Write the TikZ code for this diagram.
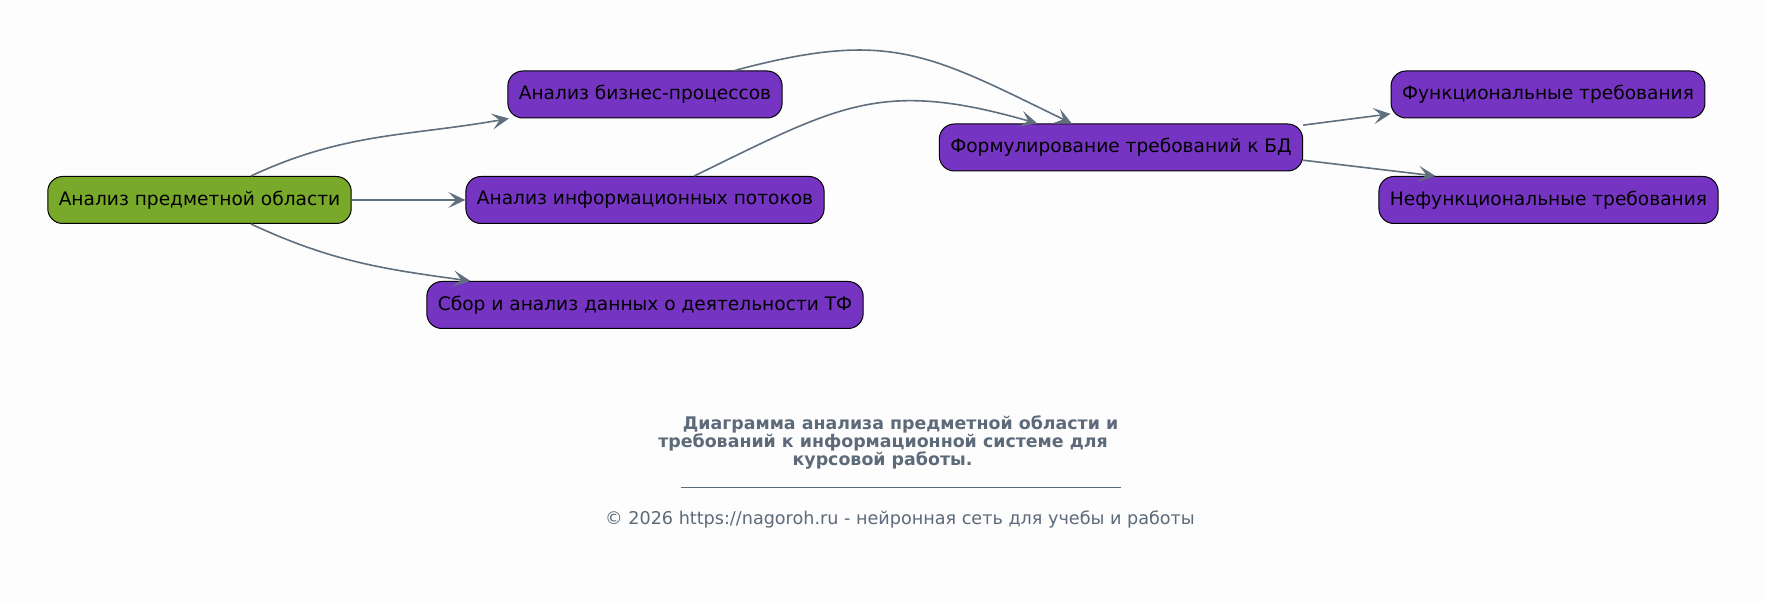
\documentclass[tikz,border=0pt]{standalone}
\usepackage{fontspec}
\setmainfont{DejaVu Sans}
\usepackage{tikz}
\usetikzlibrary{arrows.meta}

\definecolor{bgcol}{RGB}{253,253,253}
\definecolor{greenfill}{RGB}{120,169,42}
\definecolor{purplefill}{RGB}{118,52,195}
\definecolor{edgecol}{RGB}{96,111,126}
\definecolor{titlecol}{RGB}{92,106,121}

\begin{document}
\begin{tikzpicture}[x=0.5pt, y=-0.5pt,
			box/.style={draw=black, line width=0.5pt, rounded corners=7.5pt,
				minimum height=23.5pt, inner xsep=5.5pt, inner ysep=0pt,
				font=\fontsize{9.3}{11}\selectfont},
			greenbox/.style={box, fill=greenfill},
			purplebox/.style={box, fill=purplefill},
			link/.style={draw=edgecol, line width=0.8pt,
				-{Stealth[length=8.5pt, width=8pt, inset=3.8pt]}},
			caption/.style={text=titlecol, font=\bfseries\fontsize{8.7}{10}\selectfont, inner sep=0pt}]
			\useasboundingbox [fill=bgcol] (0,0) rectangle (1765,603);

			\node (analiz) [greenbox] at (199.5,200) {Анализ предметной области};
			\node (biznes) [purplebox] at (645,94.5) {Анализ бизнес-процессов};
			\node (info) [purplebox] at (645,200) {Анализ информационных потоков};
			\node (sbor) [purplebox] at (645,305) {Сбор и анализ данных о деятельности ТФ};
			\node (form) [purplebox] at (1121,147.5) {Формулирование требований к БД};
			\node (funk) [purplebox] at (1548,94.5) {Функциональные требования};
			\node (nefunk) [purplebox] at (1548.5,200) {Нефункциональные требования};

			% caption below the graph
			\node (title1) [caption] at (900.5,424) {Диаграмма анализа предметной области и};
			\node (title2) [caption] at (883,442) {требований к информационной системе для};
			\node (title3) [caption] at (882.5,460) {курсовой работы.};
			\draw [titlecol, line width=0.4pt] (681,487) -- (1121,487);
			\node (footer) [text=titlecol, font=\fontsize{8.8}{10}\selectfont, inner sep=0pt] at (900,519)
				{© 2026 https://nagoroh.ru - нейронная сеть для учебы и работы};

			\draw [link] (analiz) to [out=25, in=190] (biznes);
			\draw [link] (analiz) -- (info);
			\draw [link] (analiz) to [out=-25, in=172.5] (sbor);
			\draw [link] (biznes) to [out=15, in=154, looseness=1.2] (form);
			\draw [link] (info) to [out=26, in=164, looseness=1.2] (form);
			\draw [link] (form.7) -- (funk.187);
			\draw [link] (form.-4) -- (nefunk.168);
		\end{tikzpicture}
\end{document}
